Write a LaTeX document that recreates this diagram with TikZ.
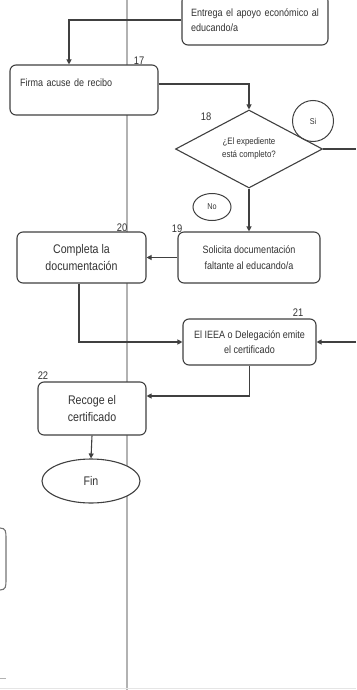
\documentclass[tikz,border=0pt]{standalone}
\usepackage{fontspec}
\setmainfont{Liberation Sans}[FakeStretch=0.85]
\usetikzlibrary{shapes,arrows.meta,positioning,calc}

\tikzset{
  proc/.style={draw=black!75,line width=1.1pt,rounded corners=6pt,fill=white,
    align=center,inner sep=2pt,text=black!80,font=\fontsize{10.6}{15.5}\selectfont},
  bigproc/.style={proc,font=\fontsize{12.5}{17}\selectfont},
  decis/.style={diamond,draw=black!75,line width=1.1pt,fill=white,inner sep=0pt,
    minimum width=147pt,minimum height=78pt,aspect=1.9,align=center,
    text=black!80,font=\fontsize{9.3}{13}\selectfont},
  tag/.style={draw=black!75,line width=1pt,inner sep=0pt,text=black!80,
    font=\fontsize{8.5}{10}\selectfont},
  conn/.style={draw=black!75,line width=1.1pt},
  lbl/.style={inner sep=0pt,text=black!80,font=\fontsize{11}{11}\selectfont},
  lane/.style={draw=black!30,line width=1.3pt}
}

\begin{document}
\begin{tikzpicture}[x=1pt,y=-1pt,>={Triangle[length=5pt,width=5pt]}]
\useasboundingbox (0,0) rectangle (356,690);
\clip (0,0) rectangle (356,690);
% swimlane and page edge
\draw[lane] (127,0) -- (127,690);
\draw[black!10,line width=1pt] (0,688) -- (356,688);
\draw[black!55,line width=1.1pt] (0,528) .. controls (6,528) and (6,532) .. (6,538)
  -- (6,580) .. controls (6,586) and (6,590) .. (0,590);
\draw[black!30,line width=1pt] (0,678) -- (6,678);

% steps
\node[proc,minimum width=146pt,minimum height=50pt,text width=128pt,align=left]
  (entrega) at (255,20) {Entrega el apoyo económico al\\educando/a};
\node[proc,minimum width=148pt,minimum height=50pt,text width=128pt,align=left]
  (firma) at (84,90) {Firma acuse de recibo\\\mbox{}};
\node[decis] (dec) at (249,149) {¿El expediente\\está completo?};
\node[tag,circle,minimum size=41pt] (si) at (313,121) {Si};
\node[tag,ellipse,minimum width=38pt,minimum height=27pt] (no) at (212,207) {No};
\node[proc,minimum width=142pt,minimum height=51pt]
  (solicita) at (249,257.5) {Solicita documentación\\faltante al educando/a};
\node[bigproc,minimum width=129pt,minimum height=51pt]
  (completa) at (81.5,257.5) {Completa la\\documentación};
\node[proc,minimum width=133pt,minimum height=46pt]
  (ieea) at (249.5,342) {El IEEA o Delegación emite\\el certificado};
\node[bigproc,minimum width=108pt,minimum height=53pt]
  (recoge) at (92,408.5) {Recoge el\\certificado};
\node[bigproc,ellipse,rounded corners=0pt,minimum width=98pt,minimum height=44pt,inner sep=0pt]
  (fin) at (91,481) {Fin};

% step numbers
\node[lbl] (n17) at (139,61) {17};
\node[lbl] (n18) at (206,117) {18};
\node[lbl] (n19) at (177,229) {19};
\node[lbl] (n20) at (122,228) {20};
\node[lbl] (n21) at (298,313) {21};
\node[lbl] (n22) at (43,376) {22};

% flow
\coordinate (siout) at (356,149);
\coordinate (siin) at (356,342);
\draw[conn,->] (entrega.west) -| ([xshift=-15pt]firma.north);
\draw[conn,->] ([yshift=6pt]firma.east) -| (dec.north);
\draw[conn] (dec.east) -- (siout);
\draw[conn,->] (dec.south) -- (solicita.north);
\draw[conn,->] (solicita.west) -- (completa.east);
\draw[conn,->] ([xshift=-2.5pt]completa.south) |- (ieea.west);
\draw[conn,->] (siin) -- (ieea.east);
\draw[conn,->] (ieea.south) |- ([yshift=12.5pt]recoge.east);
\draw[conn,->] (recoge.south) -- (fin.north);
\end{tikzpicture}
\end{document}
